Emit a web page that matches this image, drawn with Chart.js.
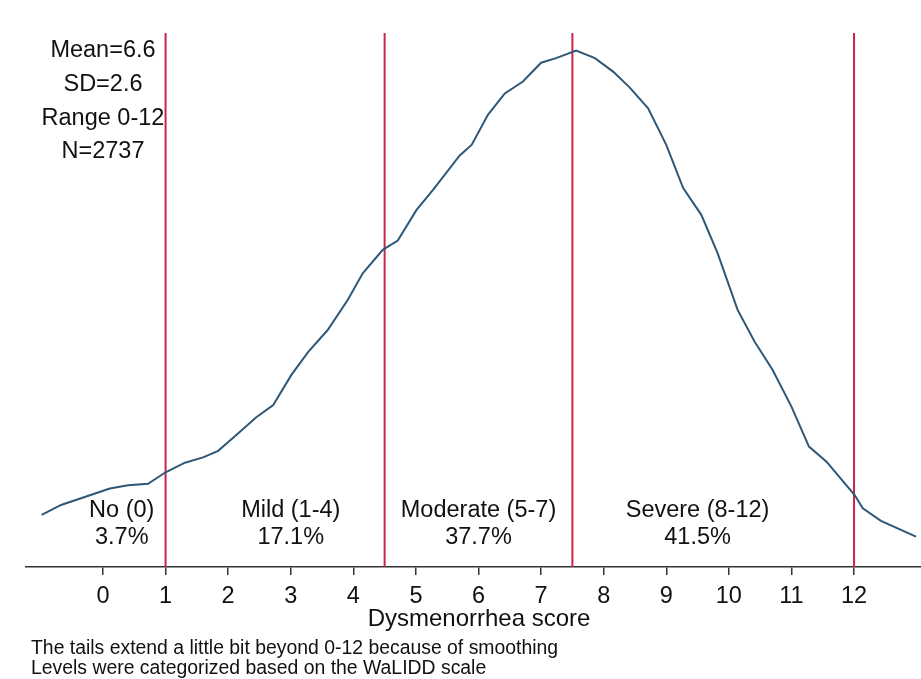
<!DOCTYPE html>
<html>
<head>
<meta charset="utf-8">
<script src="https://cdn.jsdelivr.net/npm/chart.js@4"></script>
<style>
  body { margin: 0; background: #fff; }
  canvas { display: block; }
</style>
</head>
<body>
<canvas id="densityCanvas" width="921" height="679"></canvas>
<script>
// Kernel density of the dysmenorrhea score
const scoreX = [-0.98, -0.67, 0.11, 0.40, 0.72, 1.00, 1.31, 1.60, 1.84, 2.13, 2.45, 2.72,
  3.01, 3.28, 3.59, 3.91, 4.15, 4.47, 4.71, 5.01, 5.27, 5.70, 5.89, 6.15, 6.42, 6.71,
  7.00, 7.24, 7.56, 7.86, 8.15, 8.41, 8.71, 9.00, 9.27, 9.56, 9.82, 10.14, 10.41, 10.70,
  11.00, 11.28, 11.56, 12.01, 12.14, 12.43, 12.99];
const density = [0.0158, 0.0188, 0.0238, 0.0248, 0.0252, 0.0287, 0.0316, 0.0332, 0.0352, 0.0400, 0.0454, 0.0491,
  0.0582, 0.0652, 0.0718, 0.0809, 0.0890, 0.0961, 0.0989, 0.1082, 0.1142, 0.1247, 0.1279, 0.1370, 0.1435, 0.1471,
  0.1528, 0.1542, 0.1565, 0.1542, 0.1501, 0.1454, 0.1390, 0.1279, 0.1148, 0.1067, 0.0951, 0.0779, 0.0683, 0.0597,
  0.0486, 0.0365, 0.0319, 0.0218, 0.0178, 0.0140, 0.0092];

// category cut points (WaLIDD levels)
const cutoffs = [1, 4.5, 7.5, 12];
const levelNames = ['No (0)', 'Mild (1-4)', 'Moderate (5-7)', 'Severe (8-12)'];
const levelPercents = ['3.7%', '17.1%', '37.7%', '41.5%'];
const statsLines = ['Mean=6.6', 'SD=2.6', 'Range 0-12', 'N=2737'];
const tickValues = [0, 1, 2, 3, 4, 5, 6, 7, 8, 9, 10, 11, 12];
const xTitle = 'Dysmenorrhea score';
const footnotes = [
  'The tails extend a little bit beyond 0-12 because of smoothing',
  'Levels were categorized based on the WaLIDD scale'
];

// where the texts sit, in axis units
const xMin = -1.23, xMax = 13.07, yMax = 0.1618;
const levelLabelX = [0.3, 3.0, 6.0, 9.5];
const levelNameY = 0.0170, levelPctY = 0.0088;
const statsX = 0, statsY = [0.1565, 0.1462, 0.1359, 0.1259];

const FONT = '"Liberation Sans", Arial, sans-serif';
const RED = '#c8254a';
const BLUE = '#2f5878';

const curvePoints = scoreX.map((x, i) => ({ x: x, y: density[i] }));

const cutoffSets = cutoffs.map(c => ({
  data: [{ x: c, y: 0 }, { x: c, y: yMax }],
  borderColor: RED,
  borderWidth: 2,
  pointRadius: 0,
  showLine: true,
  fill: false
}));

const textPlugin = {
  id: 'texts',
  afterDraw(chart) {
    const ctx = chart.ctx;
    const xs = chart.scales.x, ys = chart.scales.y;
    ctx.save();
    ctx.fillStyle = '#111';
    ctx.textAlign = 'center';
    ctx.textBaseline = 'middle';
    ctx.font = '23.5px ' + FONT;
    levelNames.forEach((name, i) => {
      const px = xs.getPixelForValue(levelLabelX[i]);
      ctx.fillText(name, px, ys.getPixelForValue(levelNameY));
      ctx.fillText(levelPercents[i], px, ys.getPixelForValue(levelPctY));
    });
    statsLines.forEach((t, i) => {
      ctx.fillText(t, xs.getPixelForValue(statsX), ys.getPixelForValue(statsY[i]));
    });
    // x title + notes under the axis
    ctx.font = '24px ' + FONT;
    ctx.fillText(xTitle, 479, 619);
    ctx.textAlign = 'left';
    ctx.font = '19.4px ' + FONT;
    ctx.fillText(footnotes[0], 31, 649);
    ctx.fillText(footnotes[1], 31, 669);
    ctx.restore();
  }
};

const ctx = document.getElementById('densityCanvas').getContext('2d');
new Chart(ctx, {
  type: 'scatter',
  data: {
    datasets: [{
      data: curvePoints,
      borderColor: BLUE,
      borderWidth: 2,
      pointRadius: 0,
      showLine: true,
      tension: 0,
      fill: false
    }].concat(cutoffSets)
  },
  options: {
    responsive: false,
    animation: false,
    layout: { padding: { left: 26, right: 0, top: 33, bottom: 47 } },
    plugins: { legend: { display: false }, tooltip: { enabled: false } },
    scales: {
      x: {
        type: 'linear',
        min: xMin,
        max: xMax,
        afterBuildTicks: scale => { scale.ticks = tickValues.map(v => ({ value: v })); },
        afterFit: scale => { scale.height = 65; },
        ticks: {
          color: '#111',
          padding: 7,
          font: { family: FONT, size: 23.5 },
          maxRotation: 0,
          autoSkip: false
        },
        grid: {
          drawOnChartArea: false,
          drawTicks: true,
          tickLength: 8,
          color: '#333',
          lineWidth: 1.5
        },
        border: { display: true, color: '#333', width: 1.5 }
      },
      y: {
        display: false,
        min: 0,
        max: yMax
      }
    }
  },
  plugins: [textPlugin]
});
</script>
</body>
</html>
